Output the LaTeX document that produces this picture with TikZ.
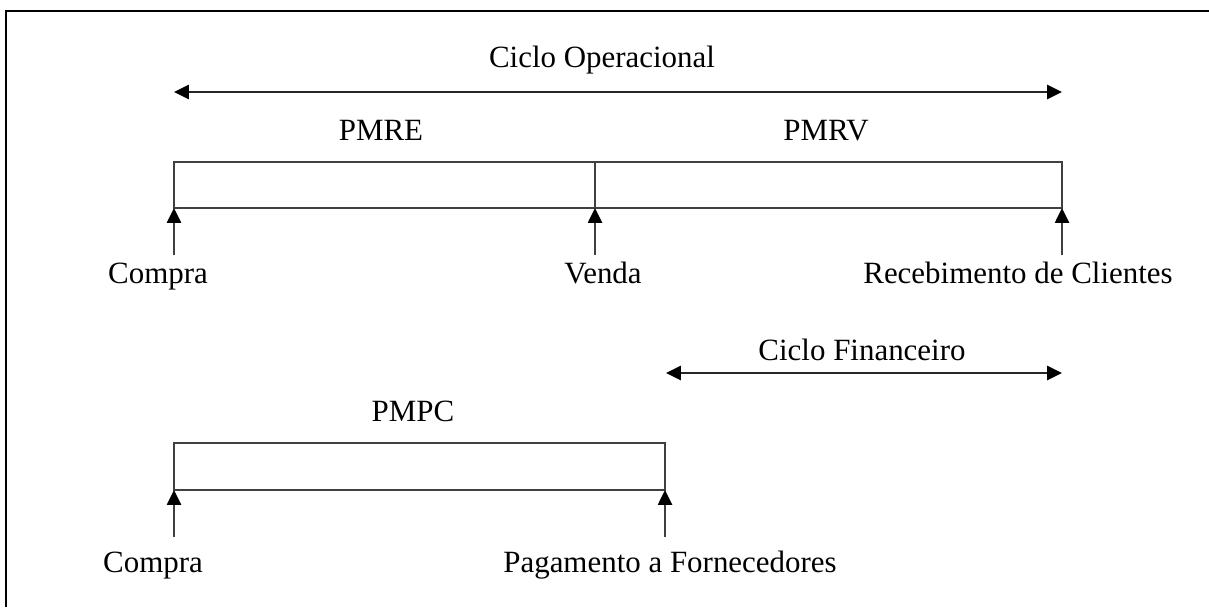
\documentclass[tikz,border=0pt]{standalone}
\usepackage{fontspec}
\setmainfont{Liberation Serif}
\usetikzlibrary{arrows.meta}

\begin{document}
\begin{tikzpicture}[
    x=0.025cm, y=-0.025cm,
    lbl/.style={anchor=base, inner sep=0pt, font=\fontsize{22}{26}\selectfont},
    bar/.style={draw=black!75, line width=1.2pt},
    darr/.style={{Triangle[length=10.5pt, width=10pt, black]}-{Triangle[length=10.5pt, width=10pt, black]}, line width=1.3pt, draw=black!85},
    uarr/.style={-{Triangle[length=10.5pt, width=10pt, black]}, line width=1.2pt, draw=black!75},
    frame/.style={line width=1.5pt, draw=black}
]
\useasboundingbox (0,0) rectangle (1209,607);
\draw[frame] (6,607) -- (6,11) -- (1209,11);

% ciclo operacional
\node[lbl] (co) at (602,67) {Ciclo Operacional};
\coordinate (coL) at (174,92);
\coordinate (coR) at (1062,92);
\draw[darr] (coL) -- (coR);

\node[lbl] (pmre) at (381,140) {PMRE};
\node[lbl] (pmrv) at (826,140) {PMRV};

\coordinate (t1) at (174,162);
\coordinate (t2) at (595,162);
\coordinate (t3) at (1062,162);
\coordinate (b1) at (174,208);
\coordinate (b2) at (595,208);
\coordinate (b3) at (1062,208);
\draw[bar] (b1) -- (t1) -- (t3) -- (b3) -- cycle;
\draw[bar] (t2) -- (b2);

\coordinate (a1) at (174,255);
\coordinate (a2) at (595,255);
\coordinate (a3) at (1062,255);
\draw[uarr] (a1) -- (b1);
\draw[uarr] (a2) -- (b2);
\draw[uarr] (a3) -- (b3);

\node[lbl] (compra) at (158,283) {Compra};
\node[lbl] (venda) at (603,283) {Venda};
\node[lbl] (receb) at (1018,283) {Recebimento de Clientes};

% ciclo financeiro
\node[lbl] (cf) at (862,360) {Ciclo Financeiro};
\coordinate (cfL) at (666,373);
\coordinate (cfR) at (1062,373);
\draw[darr] (cfL) -- (cfR);

% pmpc
\node[lbl] (pmpc) at (413,421) {PMPC};
\coordinate (p1) at (174,443);
\coordinate (p2) at (665,443);
\coordinate (q1) at (174,490);
\coordinate (q2) at (665,490);
\draw[bar] (q1) -- (p1) -- (p2) -- (q2) -- cycle;

\coordinate (s1) at (174,537);
\coordinate (s2) at (665,537);
\draw[uarr] (s1) -- (q1);
\draw[uarr] (s2) -- (q2);

\node[lbl] (compra2) at (153,572) {Compra};
\node[lbl] (pagto) at (670,572) {Pagamento a Fornecedores};
\end{tikzpicture}
\end{document}
